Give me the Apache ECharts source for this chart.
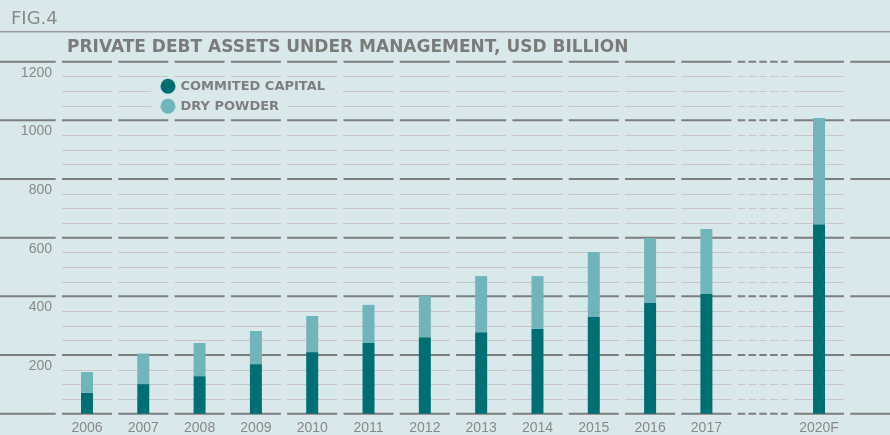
<!DOCTYPE html>
<html>
<head>
<meta charset="utf-8">
<script src="https://cdn.jsdelivr.net/npm/echarts@6/dist/echarts.min.js"></script>
<style>
html,body{margin:0;padding:0;background:#d9e9eb;}
#chart{width:890px;height:435px;}
</style>
</head>
<body>
<div id="chart"></div>
<script>
// ---- data ----
const categories = ['L', '2006', '2007', '2008', '2009', '2010', '2011', '2012', '2013', '2014', '2015', '2016', '2017', 'BRK', '2020F', 'R'];
const committedCapital = [null, 71, 101, 128, 169, 210, 241, 261, 278, 289, 330, 377, 408, null, 646, null];
const dryPowder = [null, 71, 104, 113, 113, 123, 130, 141, 191, 180, 221, 222, 222, null, 362, null];
const majorTicks = [0, 200, 400, 600, 800, 1000, 1200];
const minorTicks = [50, 100, 150, 250, 300, 350, 450, 500, 550, 650, 700, 750, 850, 900, 950, 1050, 1100, 1150];
const seriesNames = ['COMMITED CAPITAL', 'DRY POWDER'];
const figLabel = 'FIG.4';
const titleText = 'PRIVATE DEBT ASSETS UNDER MANAGEMENT, USD BILLION';

const BG = '#d9e9eb';
const DARK = '#006f74';
const LIGHT = '#6fb5b9';
const MAJOR = '#7d7d7d';
const MINOR = '#c9c4c6';
const TEXT = '#888888';
const spacerCats = ['L', 'BRK', 'R'];

const chart = echarts.init(document.getElementById('chart'), null, {renderer: 'canvas'});

function renderGrid(params, api) {
  const idx = api.value(0);
  const cat = categories[idx];
  const cx = api.coord([idx, 0])[0];
  const band = api.size([1, 0])[0];
  const half = band / 2 - 3.15;
  let x1 = cx - half, x2 = cx + half;
  if (cat === 'L') x1 = cx - band / 2 - 3;
  if (cat === 'R') x2 = cx + band / 2;
  const dash = cat === 'BRK' ? [7.5, 3.3] : null;
  const children = [];
  if (cat !== 'L' && cat !== 'R') {
    minorTicks.forEach(function (t) {
      const y = Math.round(api.coord([idx, t])[1]) + 0.5;
      children.push({type: 'line', shape: {x1: x1, y1: y, x2: x2, y2: y},
        style: {stroke: MINOR, lineWidth: 1, lineDash: dash}});
    });
  }
  majorTicks.forEach(function (t) {
    const y = api.coord([idx, t])[1];
    children.push({type: 'line', shape: {x1: x1, y1: y, x2: x2, y2: y},
      style: {stroke: MAJOR, lineWidth: 2, lineDash: dash}});
  });
  return {type: 'group', children: children};
}

const legendCommon = {
  orient: 'horizontal',
  left: 151,
  icon: 'circle',
  itemWidth: 15,
  itemHeight: 15,
  backgroundColor: BG,
  selectedMode: false,
  z: 10,
  textStyle: {color: '#7f7f7f', fontFamily: 'DejaVu Sans', fontWeight: 'bold', fontSize: 13}
};

chart.setOption({
  backgroundColor: BG,
  animation: false,
  title: [
    {text: figLabel, left: 11, top: 10, padding: 0,
     textStyle: {color: '#8a8a8a', fontFamily: 'DejaVu Sans', fontWeight: 'normal', fontSize: 18}},
    {text: titleText, left: 67, top: 39, padding: 0,
     textStyle: {color: '#7b7b7b', fontFamily: 'DejaVu Sans', fontWeight: 'bold', fontSize: 17}}
  ],
  graphic: [
    {type: 'line', shape: {x1: 0, y1: 31.7, x2: 890, y2: 31.7},
     style: {stroke: '#9a9a9a', lineWidth: 1.5}, z: 5}
  ],
  legend: [
    Object.assign({}, legendCommon, {data: [seriesNames[0]], top: 77.8, padding: [1, 11, 2, 9.5]}),
    Object.assign({}, legendCommon, {data: [seriesNames[1]], top: 97.8, padding: [1, 7, 2, 9.5]})
  ],
  grid: {left: 2.5, right: -13.5, top: 61.7, bottom: 21.3, containLabel: false, outerBoundsMode: 'none'},
  xAxis: {
    type: 'category',
    data: categories,
    axisLine: {show: false},
    axisTick: {show: false},
    splitLine: {show: false},
    axisLabel: {
      interval: 0,
      margin: 7,
      color: TEXT,
      fontFamily: 'Liberation Sans',
      fontSize: 14,
      formatter: function (v) { return spacerCats.indexOf(v) >= 0 ? '' : v; }
    }
  },
  yAxis: {
    type: 'value',
    min: 0,
    max: 1200,
    interval: 200,
    axisLine: {show: false},
    axisTick: {show: false},
    splitLine: {show: false},
    axisLabel: {
      inside: true,
      margin: 49.5,
      align: 'right',
      verticalAlign: 'top',
      padding: [4, 0, 0, 0],
      showMinLabel: false,
      color: TEXT,
      fontFamily: 'Liberation Sans',
      fontSize: 14,
      formatter: function (v) { return String(v); }
    }
  },
  series: [
    {
      type: 'custom',
      name: 'grid',
      silent: true,
      z: 1,
      renderItem: renderGrid,
      encode: {x: 0, y: 1},
      data: categories.map(function (c, i) { return [i, 0]; })
    },
    {
      type: 'bar',
      name: seriesNames[0],
      stack: 'total',
      barWidth: 12,
      z: 3,
      itemStyle: {color: DARK},
      data: committedCapital
    },
    {
      type: 'bar',
      name: seriesNames[1],
      stack: 'total',
      barWidth: 12,
      z: 3,
      itemStyle: {color: LIGHT},
      data: dryPowder
    }
  ]
});
</script>
</body>
</html>
